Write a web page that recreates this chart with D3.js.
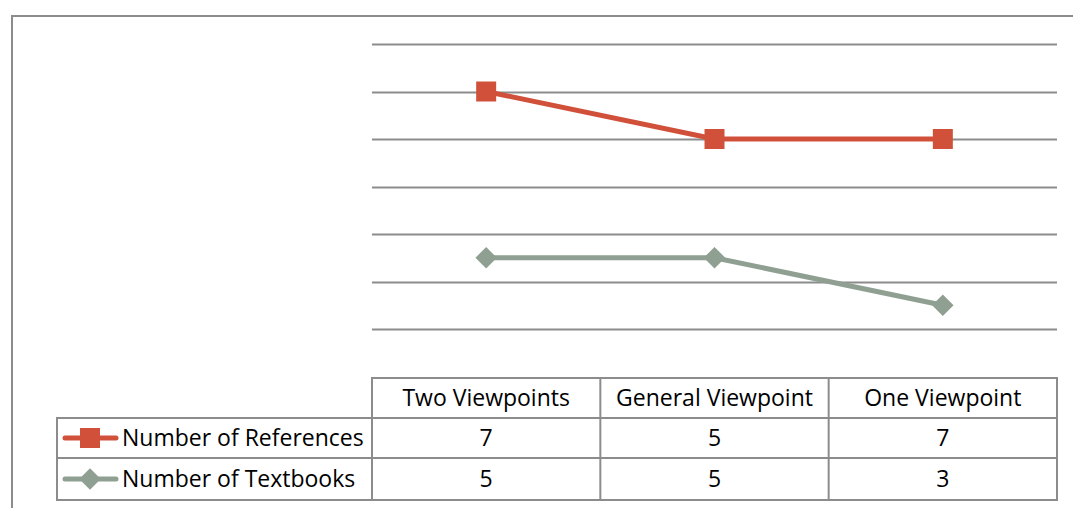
<!DOCTYPE html>
<html>
<head>
<meta charset="utf-8">
<script src="https://d3js.org/d3.v7.min.js"></script>
<style>
  body { margin: 0; background: #fff; }
  text { font-family: "Open Sans", sans-serif; fill: #000; }
</style>
</head>
<body>
<svg id="chart" width="1073" height="508"></svg>
<script>
  // categories and series (table values)
  var categories = ["Two Viewpoints", "General Viewpoint", "One Viewpoint"];
  var seriesNames = ["Number of References", "Number of Textbooks"];
  var references = [7, 5, 7];
  var textbooks = [5, 5, 3];
  var yTicks = [2, 4, 6, 8, 10, 12, 14];

  var colors = ["#d0503a", "#8fa093"];
  var fontSize = "23px";
  var plot = { left: 372, right: 1057, top: 44, bottom: 329 };

  var svg = d3.select("#chart");

  // outer frame (runs off the right and bottom edge)
  svg.append("path")
    .attr("d", "M12,510 L12,16 L1075,16")
    .attr("fill", "none")
    .attr("stroke", "#8c8c8c")
    .attr("stroke-width", 2);

  var x = d3.scaleBand()
    .domain(categories)
    .range([plot.left, plot.right]);

  var y = d3.scaleLinear()
    .domain([2, 14])
    .range([plot.bottom, plot.top]);

  // gridlines
  svg.append("g")
    .selectAll("line")
    .data(yTicks)
    .join("line")
    .attr("x1", plot.left)
    .attr("x2", plot.right)
    .attr("y1", d => Math.round(y(d)) + 0.5)
    .attr("y2", d => Math.round(y(d)) + 0.5)
    .attr("stroke", "#8c8c8c")
    .attr("stroke-width", 2);

  // stacked line chart: textbooks at bottom, references on top
  var stackedText = textbooks.slice();
  var stackedRef = references.map((d, i) => d + textbooks[i]);

  var line = d3.line()
    .x((d, i) => x(categories[i]) + x.bandwidth() / 2)
    .y(d => y(d));

  var series = [stackedRef, stackedText];

  svg.append("g")
    .selectAll("path")
    .data(series)
    .join("path")
    .attr("d", d => line(d))
    .attr("fill", "none")
    .attr("stroke", (d, i) => colors[i])
    .attr("stroke-width", 5);

  var squareSym = d3.symbol().type(d3.symbolSquare).size(400);
  var diamondSym = d3.symbol().type(d3.symbolSquare).size(230);

  svg.append("g")
    .selectAll("path")
    .data(stackedRef)
    .join("path")
    .attr("d", squareSym)
    .attr("transform", (d, i) => `translate(${x(categories[i]) + x.bandwidth() / 2},${y(d)})`)
    .attr("fill", colors[0]);

  svg.append("g")
    .selectAll("path")
    .data(stackedText)
    .join("path")
    .attr("d", diamondSym)
    .attr("transform", (d, i) => `translate(${x(categories[i]) + x.bandwidth() / 2},${y(d)}) rotate(45)`)
    .attr("fill", colors[1]);

  // data table
  var rows = { header: [378, 418], r1: [418, 458], r2: [458, 500] };
  var legendLeft = 57;
  var tbl = svg.append("g").attr("stroke", "#8c8c8c").attr("stroke-width", 2).attr("fill", "none");

  // header row box
  tbl.append("rect")
    .attr("x", plot.left).attr("y", rows.header[0])
    .attr("width", plot.right - plot.left).attr("height", rows.header[1] - rows.header[0]);
  // data rows box
  tbl.append("rect")
    .attr("x", legendLeft).attr("y", rows.r1[0])
    .attr("width", plot.right - legendLeft).attr("height", rows.r2[1] - rows.r1[0]);
  tbl.append("line")
    .attr("x1", legendLeft).attr("x2", plot.right)
    .attr("y1", rows.r2[0]).attr("y2", rows.r2[0]);
  // column separators
  tbl.selectAll("line.col")
    .data(categories)
    .join("line")
    .attr("class", "col")
    .attr("x1", d => x(d)).attr("x2", d => x(d))
    .attr("y1", rows.header[0]).attr("y2", rows.r2[1]);

  // header labels
  svg.append("g")
    .selectAll("text")
    .data(categories)
    .join("text")
    .attr("x", d => x(d) + x.bandwidth() / 2)
    .attr("y", (rows.header[0] + rows.header[1]) / 2)
    .attr("dy", "0.35em")
    .attr("text-anchor", "middle")
    .style("font-size", fontSize)
    .text(d => d);

  var tableData = [references, textbooks];
  var rowY = [(rows.r1[0] + rows.r1[1]) / 2, (rows.r2[0] + rows.r2[1]) / 2];

  tableData.forEach(function(vals, r) {
    svg.append("g")
      .selectAll("text")
      .data(vals)
      .join("text")
      .attr("x", (d, i) => x(categories[i]) + x.bandwidth() / 2)
      .attr("y", rowY[r])
      .attr("dy", "0.35em")
      .attr("text-anchor", "middle")
      .style("font-size", fontSize)
      .text(d => d);

    // legend key
    var g = svg.append("g").attr("transform", `translate(0,${rowY[r]})`);
    g.append("line")
      .attr("x1", 65).attr("x2", 116)
      .attr("stroke", colors[r]).attr("stroke-width", 5)
      .attr("stroke-linecap", "round");
    g.append("path")
      .attr("d", r === 0 ? squareSym : diamondSym)
      .attr("transform", r === 0 ? "translate(90,0)" : "translate(90,0) rotate(45)")
      .attr("fill", colors[r]);
    g.append("text")
      .attr("x", 122)
      .attr("dy", "0.35em")
      .style("font-size", fontSize)
      .text(seriesNames[r]);
  });
</script>
</body>
</html>
